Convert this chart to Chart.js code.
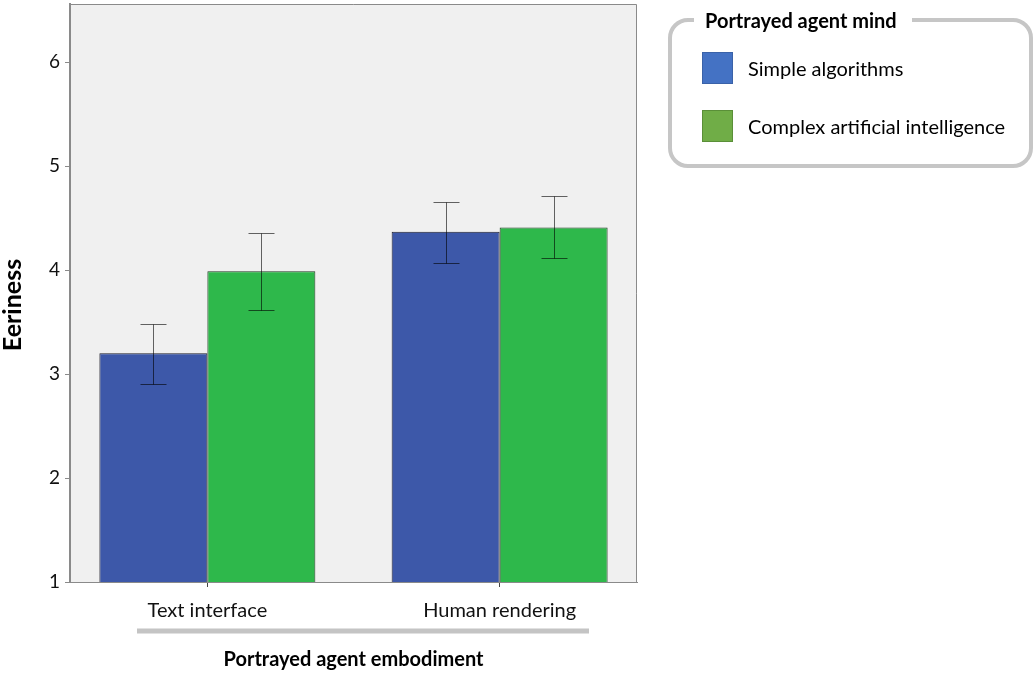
<!DOCTYPE html>
<html>
<head>
<meta charset="utf-8">
<script src="https://cdn.jsdelivr.net/npm/chart.js@4.4.1/dist/chart.umd.min.js"></script>
<style>
  html, body { margin: 0; padding: 0; background: #fff; }
  #wrap { width: 1035px; height: 673px; position: relative; }
</style>
</head>
<body>
<div id="wrap"><canvas id="myChart"></canvas></div>
<script>
// data
const categories = ['Text interface', 'Human rendering'];
const seriesNames = ['Simple algorithms', 'Complex artificial intelligence'];
const simpleMeans = [3.20, 4.37];
const simpleLow = [2.90, 4.07];
const simpleHigh = [3.48, 4.66];
const complexMeans = [3.99, 4.41];
const complexLow = [3.62, 4.12];
const complexHigh = [4.36, 4.71];
const yTickValues = [1, 2, 3, 4, 5, 6];

const barColors = ['#3d58a9', '#2eb84b'];
const legendColors = ['#4472c4', '#70ad47'];
const legendEdges = ['#3a62a8', '#5a8f38'];
const FONT = 'Lato, "Noto Sans", sans-serif';

function toPoints(values) {
    return values.map((v, i) => ({ x: i, y: v }));
}

const plotBackground = {
    id: 'plotBackground',
    beforeDraw(chart) {
        const { ctx, chartArea: a } = chart;
        ctx.save();
        ctx.fillStyle = '#f0f0f0';
        ctx.fillRect(a.left, a.top, a.right - a.left, a.bottom - a.top);
        ctx.strokeStyle = '#8a8a8a';
        ctx.lineWidth = 1;
        ctx.beginPath();
        ctx.moveTo(a.left, a.top + 0.5);
        ctx.lineTo(a.right - 0.5, a.top + 0.5);
        ctx.lineTo(a.right - 0.5, a.bottom);
        ctx.stroke();
        ctx.restore();
    }
};

const errorBars = {
    id: 'errorBars',
    afterDatasetsDraw(chart) {
        const { ctx } = chart;
        const yScale = chart.scales.y;
        ctx.save();
        ctx.strokeStyle = 'rgba(0,0,0,0.6)';
        ctx.lineWidth = 1;
        chart.data.datasets.forEach((ds, di) => {
            const meta = chart.getDatasetMeta(di);
            meta.data.forEach((bar, i) => {
                const x = Math.round(bar.x) + 0.5;
                const yLo = Math.round(yScale.getPixelForValue(ds.errLow[i])) + 0.5;
                const yHi = Math.round(yScale.getPixelForValue(ds.errHigh[i])) + 0.5;
                ctx.beginPath();
                ctx.moveTo(x, yLo);
                ctx.lineTo(x, yHi);
                ctx.moveTo(x - 13, yLo);
                ctx.lineTo(x + 13, yLo);
                ctx.moveTo(x - 13, yHi);
                ctx.lineTo(x + 13, yHi);
                ctx.stroke();
            });
        });
        ctx.restore();
    }
};

// grey bracket line under the category labels and the y axis title
const decorations = {
    id: 'decorations',
    afterDraw(chart) {
        const { ctx, chartArea: a } = chart;
        ctx.save();
        ctx.strokeStyle = '#c4c4c4';
        ctx.lineWidth = 5;
        ctx.beginPath();
        ctx.moveTo(a.left + 67, a.bottom + 49);
        ctx.lineTo(a.right - 48, a.bottom + 49);
        ctx.stroke();

        ctx.translate(13, 305);
        ctx.rotate(-Math.PI / 2);
        ctx.fillStyle = '#000';
        ctx.font = 'bold 25px ' + FONT;
        ctx.textAlign = 'center';
        ctx.textBaseline = 'middle';
        ctx.fillText('Eeriness', 0, 0);
        ctx.restore();
    }
};

const legendBox = {
    id: 'legendBox',
    afterDraw(chart) {
        const { ctx } = chart;
        const left = 670, top = 20, right = 1031, bottom = 166, r = 18;
        ctx.save();
        ctx.strokeStyle = '#c6c6c6';
        ctx.lineWidth = 4;
        ctx.beginPath();
        ctx.moveTo(694, top);
        ctx.lineTo(left + r, top);
        ctx.arcTo(left, top, left, top + r, r);
        ctx.lineTo(left, bottom - r);
        ctx.arcTo(left, bottom, left + r, bottom, r);
        ctx.lineTo(right - r, bottom);
        ctx.arcTo(right, bottom, right, bottom - r, r);
        ctx.lineTo(right, top + r);
        ctx.arcTo(right, top, right - r, top, r);
        ctx.lineTo(912, top);
        ctx.stroke();

        ctx.fillStyle = '#000';
        ctx.textBaseline = 'middle';
        ctx.textAlign = 'left';
        ctx.font = 'bold 20px ' + FONT;
        ctx.fillText('Portrayed agent mind', 705, 22);

        ctx.font = '20px ' + FONT;
        chart.data.datasets.forEach((ds, i) => {
            const y = 52 + i * 58;
            ctx.fillStyle = legendColors[i];
            ctx.fillRect(702, y, 31, 32);
            ctx.strokeStyle = legendEdges[i];
            ctx.lineWidth = 1;
            ctx.strokeRect(702.5, y + 0.5, 30, 31);
            ctx.fillStyle = '#000';
            ctx.fillText(ds.label, 748, y + 18);
        });
        ctx.restore();
    }
};

const ctx = document.getElementById('myChart').getContext('2d');
const chart = new Chart(ctx, {
    type: 'bar',
    data: {
        datasets: [
            {
                label: seriesNames[0],
                data: toPoints(simpleMeans),
                errLow: simpleLow,
                errHigh: simpleHigh,
                backgroundColor: barColors[0],
                borderColor: '#1c1c2a',
                borderWidth: 1,
                inflateAmount: 0
            },
            {
                label: seriesNames[1],
                data: toPoints(complexMeans),
                errLow: complexLow,
                errHigh: complexHigh,
                backgroundColor: barColors[1],
                borderColor: '#1f3a22',
                borderWidth: 1,
                inflateAmount: 0
            }
        ]
    },
    options: {
        responsive: true,
        maintainAspectRatio: false,
        animation: false,
        categoryPercentage: 0.739,
        barPercentage: 1.0,
        layout: { padding: { left: 0, top: 4, right: 398, bottom: 0 } },
        plugins: {
            legend: { display: false },
            tooltip: { enabled: false }
        },
        scales: {
            x: {
                type: 'linear',
                offset: false,
                min: -0.47,
                max: 1.47,
                afterBuildTicks: (scale) => {
                    scale.ticks = categories.map((c, i) => ({ value: i }));
                },
                afterFit: (scale) => {
                    scale.height = 91;
                    scale.paddingLeft = 0;
                    scale.paddingRight = 0;
                },
                ticks: {
                    callback: (value) => categories[value],
                    font: { family: FONT, size: 20 },
                    color: '#111',
                    padding: 12,
                    maxRotation: 0
                },
                grid: {
                    offset: false,
                    drawOnChartArea: false,
                    drawTicks: true,
                    tickLength: 5,
                    color: '#444'
                },
                border: { color: '#8a8a8a', width: 1 },
                title: {
                    display: true,
                    text: 'Portrayed agent embodiment',
                    font: { family: FONT, size: 20, weight: 'bold' },
                    color: '#000',
                    padding: { top: 0, bottom: 1 }
                }
            },
            y: {
                min: 1,
                max: 6.56,
                afterBuildTicks: (scale) => {
                    scale.ticks = yTickValues.map(v => ({ value: v }));
                },
                afterFit: (scale) => {
                    scale.width = 70;
                    scale.paddingTop = 0;
                    scale.paddingBottom = 0;
                },
                ticks: {
                    font: { family: FONT, size: 19 },
                    color: '#111',
                    padding: 5
                },
                grid: {
                    drawOnChartArea: false,
                    drawTicks: true,
                    tickLength: 5,
                    color: '#8a8a8a'
                },
                border: { color: '#8a8a8a', width: 2 }
            }
        }
    },
    plugins: [plotBackground, errorBars, decorations, legendBox]
});
</script>
</body>
</html>
